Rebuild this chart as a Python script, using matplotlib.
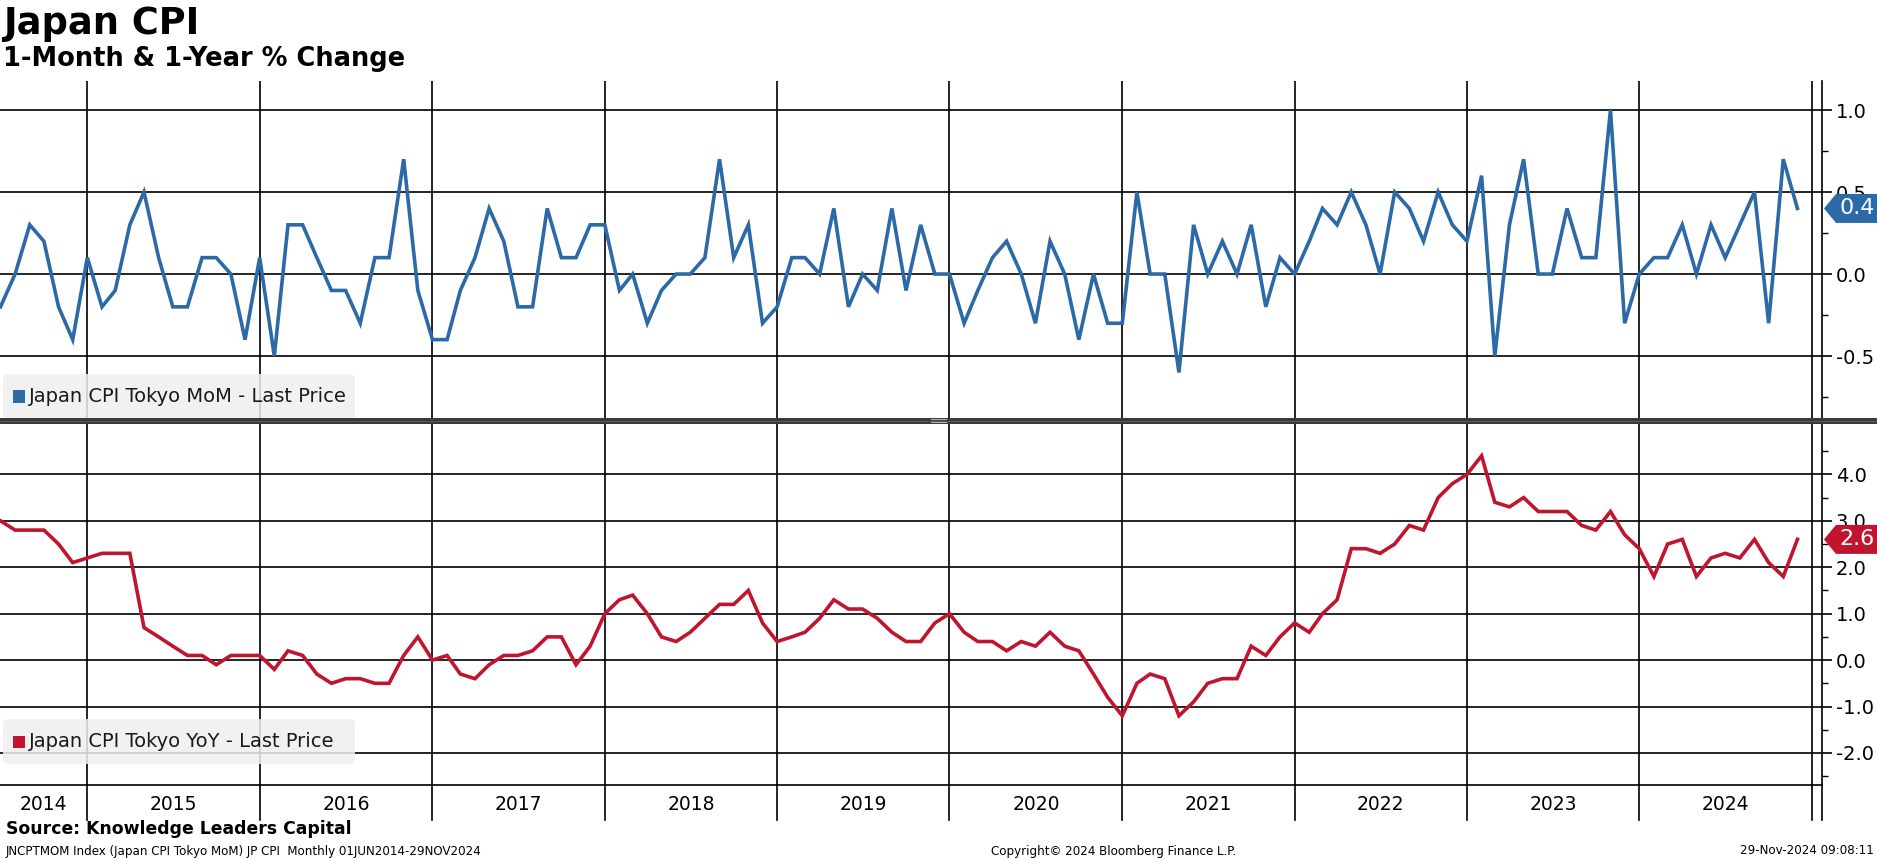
import matplotlib
matplotlib.use('Agg')
import matplotlib.pyplot as plt
import matplotlib.dates as mdates
import pandas as pd
from matplotlib.patches import FancyBboxPatch, Polygon, Rectangle
from matplotlib.lines import Line2D

plt.rcParams['font.family'] = ['DejaVu Sans']
plt.rcParams['axes.unicode_minus'] = False

# ---------------- data ----------------
months = pd.period_range('2014-06', '2024-11', freq='M')

mom = [-0.2, 0.0, 0.3, 0.2, -0.2, -0.4, 0.1, -0.2, -0.1, 0.3,
       0.5, 0.1, -0.2, -0.2, 0.1, 0.1, 0.0, -0.4, 0.1, -0.5,
       0.3, 0.3, 0.1, -0.1, -0.1, -0.3, 0.1, 0.1, 0.7, -0.1,
       -0.4, -0.4, -0.1, 0.1, 0.4, 0.2, -0.2, -0.2, 0.4, 0.1,
       0.1, 0.3, 0.3, -0.1, 0.0, -0.3, -0.1, 0.0, 0.0, 0.1,
       0.7, 0.1, 0.3, -0.3, -0.2, 0.1, 0.1, 0.0, 0.4, -0.2,
       0.0, -0.1, 0.4, -0.1, 0.3, 0.0, 0.0, -0.3, -0.1, 0.1,
       0.2, 0.0, -0.3, 0.2, 0.0, -0.4, 0.0, -0.3, -0.3, 0.5,
       0.0, 0.0, -0.6, 0.3, 0.0, 0.2, 0.0, 0.3, -0.2, 0.1,
       0.0, 0.2, 0.4, 0.3, 0.5, 0.3, 0.0, 0.5, 0.4, 0.2,
       0.5, 0.3, 0.2, 0.6, -0.5, 0.3, 0.7, 0.0, 0.0, 0.4,
       0.1, 0.1, 1.0, -0.3, 0.0, 0.1, 0.1, 0.3, 0.0, 0.3,
       0.1, 0.3, 0.5, -0.3, 0.7, 0.4]

yoy = [3.0, 2.8, 2.8, 2.8, 2.5, 2.1, 2.2, 2.3, 2.3, 2.3,
       0.7, 0.5, 0.3, 0.1, 0.1, -0.1, 0.1, 0.1, 0.1, -0.2,
       0.2, 0.1, -0.3, -0.5, -0.4, -0.4, -0.5, -0.5, 0.1, 0.5,
       0.0, 0.1, -0.3, -0.4, -0.1, 0.1, 0.1, 0.2, 0.5, 0.5,
       -0.1, 0.3, 1.0, 1.3, 1.4, 1.0, 0.5, 0.4, 0.6, 0.9,
       1.2, 1.2, 1.5, 0.8, 0.4, 0.5, 0.6, 0.9, 1.3, 1.1,
       1.1, 0.9, 0.6, 0.4, 0.4, 0.8, 1.0, 0.6, 0.4, 0.4,
       0.2, 0.4, 0.3, 0.6, 0.3, 0.2, -0.3, -0.8, -1.2, -0.5,
       -0.3, -0.4, -1.2, -0.9, -0.5, -0.4, -0.4, 0.3, 0.1, 0.5,
       0.8, 0.6, 1.0, 1.3, 2.4, 2.4, 2.3, 2.5, 2.9, 2.8,
       3.5, 3.8, 4.0, 4.4, 3.4, 3.3, 3.5, 3.2, 3.2, 3.2,
       2.9, 2.8, 3.2, 2.7, 2.4, 1.8, 2.5, 2.6, 1.8, 2.2,
       2.3, 2.2, 2.6, 2.1, 1.8, 2.6]

years = list(range(2014, 2025))
top_ticks = [-0.5, 0.0, 0.5, 1.0]
bot_ticks = [-2.0, -1.0, 0.0, 1.0, 2.0, 3.0, 4.0]

mom_label = 'Japan CPI Tokyo MoM - Last Price'
yoy_label = 'Japan CPI Tokyo YoY - Last Price'

BLUE = '#2b6aa6'
RED = '#c0152f'

# ---------------- figure ----------------
W, H = 1877, 859
fig = plt.figure(figsize=(W / 100, H / 100), dpi=100)
fig.patch.set_facecolor('white')


def fx(px):
    return px / W


def fy(py):
    return 1 - py / H


x = mdates.date2num(months.to_timestamp(how='end'))
x0 = mdates.date2num(pd.Timestamp('2014-06-30'))
x1 = mdates.date2num(pd.Timestamp('2025-01-22'))
year_lines = [mdates.date2num(pd.Timestamp(f'{y}-01-01')) for y in range(2015, 2026)]

AX_R = 1822
TOP_T, MID, BOT_B = 81, 421, 785
ax1 = fig.add_axes([0, fy(MID), fx(AX_R), (MID - TOP_T) / H])
ax2 = fig.add_axes([0, fy(BOT_B), fx(AX_R), (BOT_B - MID) / H])

for ax in (ax1, ax2):
    ax.set_xlim(x0, x1)
    for xl in year_lines:
        ax.axvline(xl, color='black', lw=1.2, zorder=1)
    ax.set_xticks([])
    ax.spines['left'].set_visible(False)
    ax.spines['top'].set_visible(False)
    ax.spines['right'].set_linewidth(1.2)
    ax.yaxis.tick_right()
    ax.tick_params(axis='y', which='major', length=7, width=1.2, pad=3,
                   labelsize=14, colors='black')
    ax.tick_params(axis='y', which='minor', length=4, width=1.0)
    ax.set_facecolor('white')

ax1.spines['bottom'].set_visible(False)
ax2.spines['bottom'].set_linewidth(1.2)

# top panel
ax1.set_ylim(-0.896, 1.177)
ax1.set_yticks(top_ticks)
ax1.set_yticks([-0.75, -0.25, 0.25, 0.75], minor=True)
ax1.set_yticklabels([f'{v:.1f}' for v in top_ticks])
for v in top_ticks:
    ax1.axhline(v, color='black', lw=1.2, zorder=1)
ax1.plot(x, mom, color=BLUE, lw=2.6, zorder=3, solid_joinstyle='miter')

# bottom panel
ax2.set_ylim(-2.69, 5.15)
ax2.set_yticks(bot_ticks)
ax2.set_yticks([-2.5, -1.5, -0.5, 0.5, 1.5, 2.5, 3.5, 4.5], minor=True)
ax2.set_yticklabels([f'{v:.1f}' for v in bot_ticks])
for v in bot_ticks:
    ax2.axhline(v, color='black', lw=1.2, zorder=1)
ax2.plot(x, yoy, color=RED, lw=2.6, zorder=3, solid_joinstyle='miter')


# legends (boxes)
def legend_box(label, color, y_top_px, y_bot_px):
    box = FancyBboxPatch((fx(3), fy(y_bot_px)), fx(352), (y_bot_px - y_top_px) / H,
                         boxstyle='round,pad=0,rounding_size=0.004',
                         transform=fig.transFigure, facecolor='#efefef',
                         edgecolor='none', alpha=0.85, zorder=5)
    fig.patches.append(box)
    ym = (y_top_px + y_bot_px) / 2
    fig.patches.append(Rectangle((fx(13), fy(ym + 6)), fx(12), 12 / H,
                                 transform=fig.transFigure, facecolor=color,
                                 edgecolor='none', zorder=6))
    fig.text(fx(29), fy(ym), label, fontsize=14, color='#1a1a1a',
             va='center', ha='left', zorder=7)


legend_box(mom_label, BLUE, 374, 419)
legend_box(yoy_label, RED, 719, 764)

# separator bar between panels
fig.patches.append(Rectangle((0, fy(MID + 3)), 1, 6 / H, transform=fig.transFigure,
                             facecolor='#3a3a3a', edgecolor='none', zorder=10))
fig.patches.append(Rectangle((0, fy(MID + 1)), 1, 1.5 / H, transform=fig.transFigure,
                             facecolor='#5a5a5a', edgecolor='none', zorder=11))
for dy in (-1.5, 1.0):
    fig.lines.append(Line2D([fx(931), fx(946)], [fy(MID + dy), fy(MID + dy)],
                            transform=fig.transFigure, color='#b0b0b0', lw=0.8, zorder=12))


# last value tags
def tag(ax, val, color, text):
    yd = ax.transData.transform((x1, val))[1]
    yp = H - yd  # pixel from top
    h = 14.5
    pts = [(1824, yp), (1836, yp - h), (1877, yp - h), (1877, yp + h), (1836, yp + h)]
    poly = Polygon([(fx(a), fy(b)) for a, b in pts], closed=True,
                   transform=fig.transFigure, facecolor=color, edgecolor='none', zorder=20)
    fig.patches.append(poly)
    fig.text(fx(1857), fy(yp), text, color='white', fontsize=16,
             ha='center', va='center', zorder=21)


tag(ax1, mom[-1], BLUE, f'{mom[-1]:.1f}')
tag(ax2, yoy[-1], RED, f'{yoy[-1]:.1f}')

# x-axis year labels and separators below bottom panel
for xl in year_lines:
    xp = ax2.transData.transform((xl, 0))[0]
    fig.lines.append(Line2D([xp / W, xp / W], [fy(BOT_B), fy(820)],
                            transform=fig.transFigure, color='black', lw=1.2))
fig.lines.append(Line2D([fx(AX_R), fx(AX_R)], [fy(BOT_B), fy(820)],
                        transform=fig.transFigure, color='black', lw=1.2))
edges = [x0] + year_lines
for i, yr in enumerate(years):
    xa = ax2.transData.transform((edges[i], 0))[0]
    xb = ax2.transData.transform((edges[i + 1], 0))[0]
    fig.text((xa + xb) / 2 / W, fy(804), str(yr), fontsize=13.5, ha='center',
             va='center', color='black')

# titles
fig.text(fx(3), fy(24), 'Japan CPI', fontsize=26.5, fontweight='bold',
         ha='left', va='center', color='black')
fig.text(fx(3), fy(59), '1-Month & 1-Year % Change', fontsize=18.5,
         fontweight='bold', ha='left', va='center', color='black')

# footer
fig.text(fx(6), fy(829), 'Source: Knowledge Leaders Capital', fontsize=12.4,
         fontweight='bold', ha='left', va='center', color='black')
fig.text(fx(6), fy(851), 'JNCPTMOM Index (Japan CPI Tokyo MoM) JP CPI  Monthly 01JUN2014-29NOV2024',
         fontsize=8.6, ha='left', va='center', color='black')
fig.text(fx(1114), fy(851), 'Copyright\u00a9 2024 Bloomberg Finance L.P.',
         fontsize=8.6, ha='center', va='center', color='black')
fig.text(fx(1874), fy(851), '29-Nov-2024 09:08:11',
         fontsize=8.6, ha='right', va='center', color='black')

fig.savefig('out.png', dpi=100)
